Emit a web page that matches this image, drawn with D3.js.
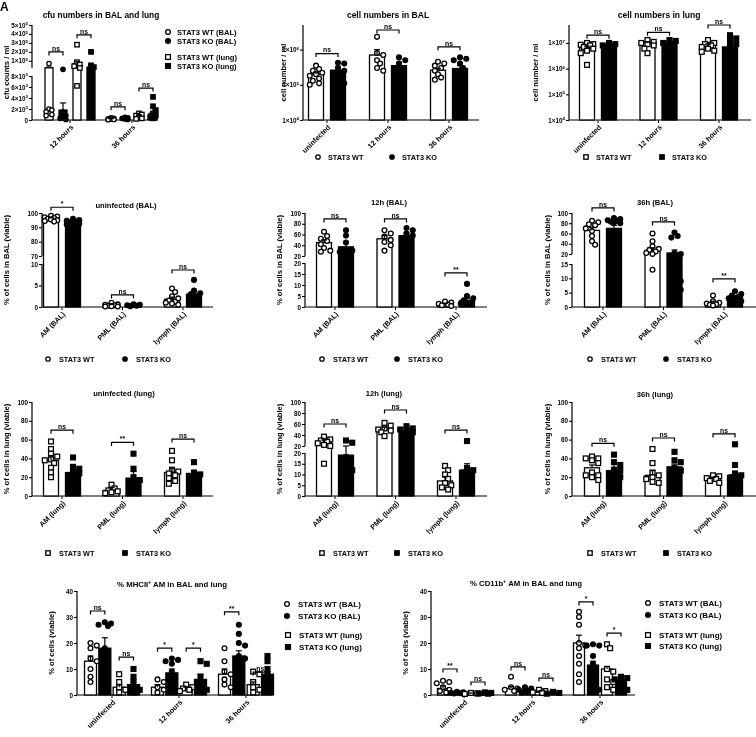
<!DOCTYPE html>
<html>
<head>
<meta charset="utf-8">
<script src="https://cdn.jsdelivr.net/npm/d3@7"></script>
<style>
  body { margin: 0; background: #fff; }
  #fig { will-change: transform; }
  svg text { font-family: "Liberation Sans", Arial, sans-serif; font-weight: bold; fill: #000; }
</style>
</head>
<body>
<svg id="fig" width="756" height="737"></svg>
<script>
// ---------- categories / series ----------
const timeCats = ["uninfected", "12 hours", "36 hours"];
const cfuCats = ["12 hours", "36 hours"];
const balCats = ["AM (BAL)", "PML (BAL)", "lymph (BAL)"];
const lungCats = ["AM (lung)", "PML (lung)", "lymph (lung)"];
const pairSeries = ["STAT3 WT", "STAT3 KO"];
const quadSeries = ["STAT3 WT (BAL)", "STAT3 KO (BAL)", "STAT3 WT (lung)", "STAT3 KO (lung)"];

// ---------- A: cfu numbers ----------
const cfuMean = [[22000, 1800, 70000, 30000], [150, 250, 600, 1200]];
const cfuErr = [[30000, 3100, 90000, 60000], [250, 350, 900, 2200]];
const cfuPts = [
  [[70000, 2000, 1800, 1500, 1000, 800], [18000, 1500, 800, 300, 100],
   [280000, 85000, 60000, 40000, 20000, 6200], [200000, 50000, 30000, 7000, 5000, 3000]],
  [[400, 300, 200, 150, 100, 50], [500, 400, 300, 200, 100],
   [1200, 1000, 800, 500, 300, 200], [4200, 2500, 1800, 1200, 800, 500, 300]]
];
const cfuSig = [[0, 0, 1, 200000, "ns"], [0, 2, 3, 390000, "ns"], [1, 0, 1, 2400, "ns"], [1, 2, 3, 5800, "ns"]];
const cfuTicksLow = [0, 2000, 4000, 6000, 8000];
const cfuTicksHigh = [100000, 200000, 300000, 400000, 500000];

// ---------- B: cell numbers in BAL ----------
const balNumMean = [[2.0e5, 2.6e5], [7e5, 3.5e5], [2.6e5, 2.9e5]];
const balNumErr = [[2.3e5, 3.3e5], [1.0e6, 4.3e5], [2.9e5, 3.5e5]];
const balNumPts = [
  [[3.5e5, 2.8e5, 2.5e5, 2.2e5, 2.0e5, 1.8e5, 1.5e5, 1.3e5, 1.1e5, 1.0e5], [4.2e5, 4e5, 3e5, 2.5e5, 2e5, 1.5e5, 1.2e5, 1.1e5]],
  [[2.3e6, 8e5, 7e5, 5e5, 4e5, 3e5, 2.5e5], [6e5, 5e5, 4e5, 3e5, 2.5e5, 2e5, 1.5e5]],
  [[4.5e5, 4e5, 3.5e5, 3e5, 2.5e5, 2e5, 1.6e5, 1.4e5], [6e5, 5.5e5, 5e5, 4e5, 3e5, 2e5, 1.5e5, 1.2e5]]
];
const balNumSig = [[0, 0, 1, 7.7e5, "ns"], [1, 0, 1, 3.6e6, "ns"], [2, 0, 1, 1.2e6, "ns"]];
const balNumTicks = [1e4, 1e5, 1e6];

// ---------- C: cell numbers in lung ----------
const lungNumMean = [[6.5e6, 8.5e6], [1.0e7, 1.1e7], [8e6, 7e6]];
const lungNumErr = [[7.5e6, 9e6], [1.1e7, 1.2e7], [9e6, 1e7]];
const lungNumPts = [
  [[1e7, 9e6, 8.5e6, 8e6, 7e6, 6e6, 5e6, 4e6, 1.4e6], [1e7, 9e6, 8e6, 7e6, 6e6]],
  [[1.3e7, 1.1e7, 1e7, 9e6, 8e6, 6e6, 4e6], [1.3e7, 1.2e7, 1e7, 9e6, 8e6, 5e6]],
  [[1.3e7, 1e7, 9e6, 8e6, 7e6, 6e6, 5e6, 4.5e6], [2e7, 1.5e7, 1.2e7, 9e6, 7e6, 5e6, 4e6]]
];
const lungNumSig = [[0, 0, 1, 2.0e7, "ns"], [1, 0, 1, 2.6e7, "ns"], [2, 0, 1, 5e7, "ns"]];
const lungNumTicks = [1e4, 1e5, 1e6, 1e7];

// ---------- D: uninfected (BAL) ----------
const balUninfMean = [[96, 94], [0.4, 0.4], [1.8, 3.0]];
const balUninfErr = [[97, 95], [0.6, 0.5], [2.3, 3.7]];
const balUninfPts = [
  [[98, 97.5, 97, 96.5, 96, 95.5, 95, 94.5, 94], [96, 95, 94.5, 94, 93.5, 93, 92.5, 92]],
  [[1.0, 0.6, 0.5, 0.4, 0.3, 0.2, 0.1, 0.1], [0.6, 0.5, 0.4, 0.3, 0.2]],
  [[4.3, 3.5, 2.5, 2.0, 1.5, 1.2, 1.0, 0.8, 0.5], [6.3, 3.8, 3.2, 3.0, 2.5, 1.0]]
];
const balUninfSig = [[0, 0, 1, 104, "*"], [1, 0, 1, 2.8, "ns"], [2, 0, 1, 8.6, "ns"]];

// ---------- E: 12h (BAL) ----------
const bal12Mean = [[45, 37], [52, 58], [1.3, 3.0]];
const bal12Err = [[50, 45], [58, 63], [1.7, 4.0]];
const bal12Pts = [
  [[65, 57, 52, 48, 42, 35, 30, 28], [68, 58, 45, 32, 30, 28, 12]],
  [[68, 62, 56, 50, 46, 40, 30], [72, 68, 62, 58, 50, 40, 30]],
  [[2.5, 2.0, 1.5, 1.0, 0.8, 0.5], [10.5, 5, 4, 3, 2, 1.5]]
];
const bal12Sig = [[0, 0, 1, 89, "ns"], [1, 0, 1, 89, "ns"], [2, 0, 1, 15.5, "**"]];

// ---------- F: 36h (BAL) ----------
const bal36Mean = [[66, 70], [27, 22], [1.5, 3.5]];
const bal36Err = [[72, 76], [32, 28], [2.0, 4.0]];
const bal36Pts = [
  [[85, 82, 78, 76, 70, 65, 55, 45, 38], [90, 88, 86, 85, 83, 82, 80, 60, 45, 25]],
  [[60, 45, 35, 30, 28, 25, 22, 20, 13], [62, 55, 52, 22, 20, 10, 9, 7, 6]],
  [[4.0, 2.0, 1.5, 1.2, 1.0, 0.8, 0.5], [5.5, 4.5, 4.0, 3.5, 3.0, 2.5, 2.0]]
];
const bal36Sig = [[0, 0, 1, 110, "ns"], [1, 0, 1, 82.5, "ns"], [2, 0, 1, 9.8, "**"]];

// ---------- G: uninfected (lung) ----------
const lungUninfMean = [[38, 25], [6, 19], [25, 24]];
const lungUninfErr = [[43, 30], [9, 26], [29, 27]];
const lungUninfPts = [
  [[58, 50, 45, 42, 39, 38, 35, 30, 25, 20], [41, 31, 29, 26, 24, 22, 21]],
  [[12, 8, 6, 5, 4, 3], [45, 29, 20, 17, 10, 5]],
  [[48, 38, 28, 26, 24, 22, 19, 16, 13], [36, 25, 23, 21, 18, 10]]
];
const lungUninfSig = [[0, 0, 1, 70, "ns"], [1, 0, 1, 57, "**"], [2, 0, 1, 60.6, "ns"]];

// ---------- H: 12h (lung) ----------
const lung12Mean = [[28, 19], [50, 48], [7, 12]];
const lung12Err = [[31, 20], [54, 52], [9, 15]];
const lung12Pts = [
  [[37, 32, 30, 28, 25, 22, 20, 15], [30, 26, 18, 16, 15, 13, 12]],
  [[62, 57, 52, 50, 48, 45, 38], [56, 52, 50, 48, 45, 40, 30, 22]],
  [[14, 12, 10, 8, 6, 5, 4, 3], [29, 13, 12, 11, 10, 8, 6]]
];
const lung12Sig = [[0, 0, 1, 60, "ns"], [1, 0, 1, 85.5, "ns"], [2, 0, 1, 49, "ns"]];

// ---------- I: 36h (lung) ----------
const lung36Mean = [[30, 27], [22, 31], [19, 22]];
const lung36Err = [[33, 34], [27, 34], [20, 25]];
const lung36Pts = [
  [[42, 40, 40, 38, 35, 25, 22, 22, 20, 17], [44, 36, 33, 28, 27, 22, 20, 15, 10]],
  [[50, 35, 25, 22, 20, 18, 15, 14], [47, 38, 36, 30, 27, 25, 20, 12]],
  [[22, 21, 19, 18, 16, 14], [55, 33, 24, 22, 20, 18, 15, 10, 5]]
];
const lung36Sig = [[0, 0, 1, 56, "ns"], [1, 0, 1, 61.7, "ns"], [2, 0, 1, 66, "ns"]];

// ---------- J: % MHCII+ AM ----------
const mhcMean = [[13, 18, 3, 4], [3, 8.5, 2.5, 6], [8, 15, 4, 8]];
const mhcErr = [[15, 22, 4, 5], [4, 10, 3, 8], [10, 17, 5, 9]];
const mhcPts = [
  [[20, 19, 18, 14, 13, 10, 7, 5], [28, 27.5, 27, 26.5, 18, 10, 5], [8, 5, 3, 2, 1], [10, 7, 5, 3, 2, 1]],
  [[6, 5, 3, 2, 1], [14, 13.5, 13, 12, 9, 6, 4, 2], [4, 3, 2.5, 2, 1.5], [13, 12, 7, 5, 3, 2]],
  [[18, 13, 9, 8, 6, 4, 3], [27, 23.5, 20, 19, 15, 14, 12, 8, 5], [9, 8, 5, 3, 2, 1], [15, 13, 10, 8, 6, 4, 2]]
];
const mhcSig = [[0, 0, 1, 32.3, "ns"], [0, 2, 3, 14.6, "ns"], [1, 0, 1, 18, "*"], [1, 2, 3, 18, "*"], [2, 0, 1, 32, "**"], [2, 2, 3, 8.8, "ns"]];

// ---------- K: % CD11b+ AM ----------
const cd11Mean = [[2.5, 0.9, 0.6, 0.8], [2.5, 2, 1.2, 0.8], [20, 11.5, 10, 6]];
const cd11Err = [[3.5, 1.1, 0.8, 1.0], [3.2, 2.4, 1.5, 1.0], [23, 13, 11, 7]];
const cd11Pts = [
  [[5.5, 5, 4.5, 3, 2, 1.5, 1], [1.2, 1, 0.8, 0.7, 0.6], [0.8, 0.6, 0.4], [1, 0.8, 0.6, 0.5]],
  [[7, 3, 2.5, 2, 1.5], [3, 2.5, 2, 1.5, 1], [2, 1.5, 1, 0.8], [1.2, 0.8, 0.5]],
  [[32, 30, 27, 20, 19, 18, 15, 12, 8, 5], [19.5, 19, 19, 15, 12, 8, 5, 3, 2], [19.5, 18, 10, 9, 6, 5, 3, 2], [7, 6.5, 6, 5, 3, 2]]
];
const cd11Sig = [[0, 0, 1, 10, "**"], [0, 2, 3, 5, "ns"], [1, 0, 1, 10.8, "ns"], [1, 2, 3, 6.5, "ns"], [2, 0, 1, 35.8, "*"], [2, 2, 3, 23.8, "*"]];

const pctTicks = [0, 20, 40, 60, 80, 100];
const pct40Ticks = [0, 10, 20, 30, 40];

// ---------- drawing ----------
const svg = d3.select("#fig");
const circles = [["circle", false], ["circle", true]];
const squares = [["square", false], ["square", true]];
const quadShapes = [["circle", false], ["circle", true], ["square", false], ["square", true]];

function marker(g, shape, filled, cx, cy, r) {
  let m;
  if (shape === "circle") m = g.append("circle").attr("cx", cx).attr("cy", cy).attr("r", r);
  else m = g.append("rect").attr("x", cx - r).attr("y", cy - r).attr("width", 2 * r).attr("height", 2 * r);
  m.attr("fill", filled ? "#000" : "#fff").attr("stroke", "#000").attr("stroke-width", 1.3);
}

// simple beeswarm so the dots sit side by side like GraphPad does
function swarm(vals, y, r, maxOff) {
  const placed = [];
  const step = r * 1.3, minD = r * 1.9;
  vals.slice().sort((a, b) => b - a).forEach(v => {
    const py = y(v);
    let best = 0, bestD = -1;
    for (let k = 0; k < 20; k++) {
      const px = (k % 2 ? 1 : -1) * Math.ceil(k / 2) * step;
      if (Math.abs(px) > maxOff) continue;
      let d = Infinity;
      placed.forEach(p => { d = Math.min(d, Math.hypot(p[0] - px, p[1] - py)); });
      if (d >= minD) { best = px; bestD = Infinity; break; }
      if (d > bestD) { bestD = d; best = px; }
    }
    placed.push([best, py]);
  });
  return placed;
}

function sciText(sel, v) {
  if (v === 0) { sel.text("0"); return; }
  const e = Math.floor(Math.log10(v) + 1e-9);
  const m = Math.round(v / Math.pow(10, e));
  sel.text(null);
  sel.append("tspan").text(m + "×10");
  sel.append("tspan").attr("dy", -2.5).attr("font-size", "4.4px").text(e);
}

function drawPanel(p) {
  const g = svg.append("g");
  const y = p.y;
  const xg = d3.scalePoint().domain(p.cats).range(p.groupRange);
  const xs = d3.scalePoint().domain(d3.range(p.shapes.length)).range(p.seriesRange);
  const base = p.segs[0].s.range()[0];
  const X = (ci, si) => xg(p.cats[ci]) + xs(si);

  // y axis (one or two segments)
  p.segs.forEach(seg => {
    const ax = d3.axisLeft(seg.s).tickValues(seg.ticks).tickSize(3).tickSizeOuter(0);
    const a = g.append("g").attr("transform", `translate(${p.x0},0)`).call(ax);
    a.select(".domain").remove();
    a.selectAll("line").attr("stroke", "#000").attr("stroke-width", 1.1);
    a.selectAll("text").attr("font-size", "6.3px").attr("font-family", null).attr("fill", null).attr("x", -4);
    if (seg.sci) a.selectAll("text").each(function (d) { sciText(d3.select(this), d); });
    const r = seg.s.range();
    g.append("line").attr("x1", p.x0).attr("x2", p.x0).attr("y1", r[0]).attr("y2", r[1])
      .attr("stroke", "#000").attr("stroke-width", 1.2);
  });

  // x axis
  g.append("line").attr("x1", p.x0).attr("x2", p.x1).attr("y1", base).attr("y2", base)
    .attr("stroke", "#000").attr("stroke-width", 1.2);
  p.cats.forEach(c => {
    g.append("line").attr("x1", xg(c)).attr("x2", xg(c)).attr("y1", base).attr("y2", base + 3)
      .attr("stroke", "#000");
    g.append("text").attr("transform", `translate(${xg(c) + 2},${base + 6}) rotate(-45)`)
      .attr("text-anchor", "end").attr("font-size", "7.2px").attr("dy", "0.35em").text(c);
  });

  // bars
  p.mean.forEach((row, ci) => row.forEach((v, si) => {
    const filled = p.shapes[si][1];
    g.append("rect").attr("x", X(ci, si) - p.barW / 2).attr("width", p.barW)
      .attr("y", y(v)).attr("height", base - y(v))
      .attr("fill", filled ? "#000" : "#fff").attr("stroke", "#000").attr("stroke-width", 1.3);
  }));

  // points
  p.pts.forEach((row, ci) => row.forEach((vals, si) => {
    const [shape, filled] = p.shapes[si];
    swarm(vals, y, p.r, p.barW / 2 + 1).forEach(pt => {
      marker(g, shape, filled, X(ci, si) + pt[0], pt[1], p.r);
    });
  }));

  // error bars (mean + SEM)
  p.err.forEach((row, ci) => row.forEach((v, si) => {
    const cx = X(ci, si), ym = y(p.mean[ci][si]), ye = y(v);
    g.append("line").attr("x1", cx).attr("x2", cx).attr("y1", ym).attr("y2", ye).attr("stroke", "#000").attr("stroke-width", 1.2);
    g.append("line").attr("x1", cx - 3).attr("x2", cx + 3).attr("y1", ye).attr("y2", ye).attr("stroke", "#000").attr("stroke-width", 1.2);
  }));

  // significance brackets
  p.sig.forEach(([ci, a, b, at, label]) => {
    const xa = X(ci, a), xb = X(ci, b), yy = y(at);
    g.append("path").attr("d", `M${xa},${yy + 3.5}V${yy}H${xb}V${yy + 3.5}`)
      .attr("fill", "none").attr("stroke", "#000").attr("stroke-width", 1.2);
    g.append("text").attr("x", (xa + xb) / 2).attr("y", yy - 1.2).attr("text-anchor", "middle")
      .attr("font-size", "6.8px").attr("font-weight", "normal").text(label);
  });

  // title
  const t = g.append("text").attr("x", p.titleX).attr("y", p.titleY).attr("text-anchor", "middle")
    .attr("font-size", p.titleSize || "7.6px");
  if (p.titleSup) {
    t.append("tspan").text(p.title[0]);
    t.append("tspan").attr("dy", -3).attr("font-size", "5px").text(p.titleSup);
    t.append("tspan").attr("dy", 3).text(p.title[1]);
  } else t.text(p.title);

  // y label
  const yr = p.segs.map(s => s.s.range()).flat();
  g.append("text").attr("transform", `translate(${p.ylabelX},${(d3.max(yr) + d3.min(yr)) / 2}) rotate(-90)`)
    .attr("text-anchor", "middle").attr("font-size", p.ylabelSize || "7.6px").text(p.ylabel);
}

function legend(items, shapes, xs, ys, textDx, size, fs) {
  const g = svg.append("g");
  items.forEach((txt, i) => {
    marker(g, shapes[i][0], shapes[i][1], xs[i], ys[i], size);
    g.append("text").attr("x", xs[i] + textDx).attr("y", ys[i]).attr("dy", "0.35em")
      .attr("font-size", fs).text(txt);
  });
}

// piecewise (broken) y scales built from their segments
function broken(lowDom, lowRange, highDom, highRange) {
  const lo = d3.scaleLinear().domain(lowDom).range(lowRange);
  const hi = d3.scaleLinear().domain(highDom).range(highRange);
  const y = d3.scaleLinear().domain([lowDom[0], lowDom[1], highDom[0], highDom[1]])
    .range([lowRange[0], lowRange[1], highRange[0], highRange[1]]);
  return { y, lo, hi };
}

const R = 2.4;

// ---- A ----
const yA = broken([0, 8000], [120, 76], [20000, 500000], [68, 25]);
drawPanel({
  cats: cfuCats, shapes: quadShapes, mean: cfuMean, err: cfuErr, pts: cfuPts, sig: cfuSig,
  y: yA.y, segs: [{ s: yA.lo, ticks: cfuTicksLow, sci: true }, { s: yA.hi, ticks: cfuTicksHigh, sci: true }],
  x0: 32, x1: 158, groupRange: [70, 132], seriesRange: [-21, 21], barW: 8, r: 2.2,
  title: "cfu numbers in BAL and lung", titleX: 101, titleY: 18, titleSize: "8.4px",
  ylabel: "cfu counts / ml", ylabelX: 9
});
legend(quadSeries, quadShapes, [168, 168, 168, 168], [32, 41, 57, 66], 9, 2.4, "7.6px");

// ---- B ----
const yB = d3.scaleLog().domain([1e4, 5e6]).range([120, 25]);
drawPanel({
  cats: timeCats, shapes: circles, mean: balNumMean, err: balNumErr, pts: balNumPts, sig: balNumSig,
  y: yB, segs: [{ s: yB, ticks: balNumTicks, sci: true }],
  x0: 303, x1: 479, groupRange: [327, 449], seriesRange: [-11, 11], barW: 15, r: R,
  title: "cell numbers in BAL", titleX: 388, titleY: 18, titleSize: "8.5px",
  ylabel: "cell number / ml", ylabelX: 286
});
legend(pairSeries, circles, [318, 392], [157, 157], 10, 2.2, "7.3px");

// ---- C ----
const yC = d3.scaleLog().domain([1e4, 5e7]).range([120, 25]);
drawPanel({
  cats: timeCats, shapes: squares, mean: lungNumMean, err: lungNumErr, pts: lungNumPts, sig: lungNumSig,
  y: yC, segs: [{ s: yC, ticks: lungNumTicks, sci: true }],
  x0: 569, x1: 751, groupRange: [598, 719], seriesRange: [-11, 11], barW: 15, r: R,
  title: "cell numbers in lung", titleX: 659, titleY: 18, titleSize: "8.5px",
  ylabel: "cell number / ml", ylabelX: 538
});
legend(pairSeries, squares, [586, 662], [157, 157], 10, 2.2, "7.3px");

// ---- D ----
const yD = broken([0, 10], [307, 264], [70, 100], [256, 213]);
drawPanel({
  cats: balCats, shapes: circles, mean: balUninfMean, err: balUninfErr, pts: balUninfPts, sig: balUninfSig,
  y: yD.y, segs: [{ s: yD.lo, ticks: [0, 5, 10] }, { s: yD.hi, ticks: [70, 80, 90, 100] }],
  x0: 42, x1: 213, groupRange: [62, 183], seriesRange: [-11, 11], barW: 15, r: R,
  title: "uninfected (BAL)", titleX: 126, titleY: 208,
  ylabel: "% of cells in BAL (viable)", ylabelX: 9
});
legend(pairSeries, circles, [48, 125], [359, 359], 11, 2.2, "7.3px");

// ---- E ----
const yE = broken([0, 20], [307, 263], [20, 100], [256, 213]);
drawPanel({
  cats: balCats, shapes: circles, mean: bal12Mean, err: bal12Err, pts: bal12Pts, sig: bal12Sig,
  y: yE.y, segs: [{ s: yE.lo, ticks: [0, 5, 10, 15, 20] }, { s: yE.hi, ticks: [20, 40, 60, 80, 100] }],
  x0: 305, x1: 487, groupRange: [335, 456], seriesRange: [-11, 11], barW: 15, r: R,
  title: "12h (BAL)", titleX: 389, titleY: 205,
  ylabel: "% of cells in BAL (viable)", ylabelX: 282
});
legend(pairSeries, circles, [322, 397], [359, 359], 11, 2.2, "7.3px");

// ---- F ----
const yF = broken([0, 15], [307, 264], [20, 100], [254, 213]);
drawPanel({
  cats: balCats, shapes: circles, mean: bal36Mean, err: bal36Err, pts: bal36Pts, sig: bal36Sig,
  y: yF.y, segs: [{ s: yF.lo, ticks: [0, 5, 10, 15] }, { s: yF.hi, ticks: [20, 40, 60, 80, 100] }],
  x0: 572, x1: 756, groupRange: [603, 724], seriesRange: [-11, 11], barW: 15, r: R,
  title: "36h (BAL)", titleX: 655, titleY: 205,
  ylabel: "% of cells in BAL (viable)", ylabelX: 550
});
legend(pairSeries, circles, [590, 666], [359, 359], 11, 2.2, "7.3px");

// ---- G ----
const yG = d3.scaleLinear().domain([0, 100]).range([496, 402]);
drawPanel({
  cats: lungCats, shapes: squares, mean: lungUninfMean, err: lungUninfErr, pts: lungUninfPts, sig: lungUninfSig,
  y: yG, segs: [{ s: yG, ticks: pctTicks }],
  x0: 32, x1: 213, groupRange: [62, 183], seriesRange: [-11, 11], barW: 15, r: R,
  title: "uninfected (lung)", titleX: 124, titleY: 396,
  ylabel: "% of cells in lung (viable)", ylabelX: 9
});
legend(pairSeries, squares, [48, 125], [553, 553], 11, 2.2, "7.3px");

// ---- H ----
const yH = broken([0, 20], [496, 453], [20, 100], [446, 402]);
drawPanel({
  cats: lungCats, shapes: squares, mean: lung12Mean, err: lung12Err, pts: lung12Pts, sig: lung12Sig,
  y: yH.y, segs: [{ s: yH.lo, ticks: [0, 5, 10, 15, 20] }, { s: yH.hi, ticks: [20, 40, 60, 80, 100] }],
  x0: 305, x1: 487, groupRange: [335, 456], seriesRange: [-11, 11], barW: 15, r: R,
  title: "12h (lung)", titleX: 384, titleY: 396,
  ylabel: "% of cells in lung (viable)", ylabelX: 282
});
legend(pairSeries, squares, [322, 397], [553, 553], 11, 2.2, "7.3px");

// ---- I ----
const yI = d3.scaleLinear().domain([0, 100]).range([496, 402]);
drawPanel({
  cats: lungCats, shapes: squares, mean: lung36Mean, err: lung36Err, pts: lung36Pts, sig: lung36Sig,
  y: yI, segs: [{ s: yI, ticks: pctTicks }],
  x0: 572, x1: 756, groupRange: [603, 724], seriesRange: [-11, 11], barW: 15, r: R,
  title: "36h (lung)", titleX: 655, titleY: 397,
  ylabel: "% of cells in lung (viable)", ylabelX: 550
});
legend(pairSeries, squares, [590, 666], [553, 553], 11, 2.2, "7.3px");

// ---- J ----
const yJ = d3.scaleLinear().domain([0, 40]).range([695, 591]);
drawPanel({
  cats: timeCats, shapes: quadShapes, mean: mhcMean, err: mhcErr, pts: mhcPts, sig: mhcSig,
  y: yJ, segs: [{ s: yJ, ticks: pct40Ticks }],
  x0: 77, x1: 272, groupRange: [112, 246], seriesRange: [-21.5, 21.5], barW: 12, r: R,
  title: ["% MHCII", " AM in BAL and lung"], titleSup: "+", titleX: 172, titleY: 587, titleSize: "7.8px",
  ylabel: "% of cells (viable)", ylabelX: 54
});
legend(quadSeries, quadShapes, [287, 287, 288, 288], [604, 616, 635, 647], 11, 2.4, "8px");

// ---- K ----
const yK = d3.scaleLinear().domain([0, 40]).range([695, 591]);
drawPanel({
  cats: timeCats, shapes: quadShapes, mean: cd11Mean, err: cd11Err, pts: cd11Pts, sig: cd11Sig,
  y: yK, segs: [{ s: yK, ticks: pct40Ticks }],
  x0: 431, x1: 635, groupRange: [464, 600], seriesRange: [-21, 21], barW: 11, r: R,
  title: ["% CD11b", " AM in BAL and lung"], titleSup: "+", titleX: 526, titleY: 586, titleSize: "7.8px",
  ylabel: "% of cells (viable)", ylabelX: 408
});
legend(quadSeries, quadShapes, [648, 648, 648, 648], [603, 615, 635, 646], 11, 2.4, "8px");

// panel letter (cropped in the original)
svg.append("text").attr("x", 0).attr("y", 11).attr("font-size", "12px").text("A");
</script>
</body>
</html>
